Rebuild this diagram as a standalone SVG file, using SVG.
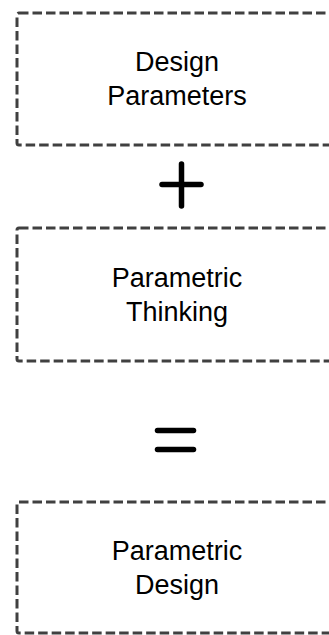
<svg xmlns="http://www.w3.org/2000/svg" width="329" height="635" viewBox="0 0 329 635">
<style>
.box{fill:none;stroke:#404040;stroke-width:3;stroke-dasharray:9.5 4}
.lbl{font-family:"Liberation Sans",Arial,sans-serif;font-size:27px;fill:#000;text-anchor:middle}
.op{stroke:#000;stroke-width:5.5;stroke-linecap:round;fill:none}
</style>
<rect width="329" height="635" fill="#fff"/>
<g id="node-design-parameters">
<rect class="box" x="17" y="13" width="330" height="132" rx="2"/>
<text class="lbl" x="177" y="71">Design</text>
<text class="lbl" x="177" y="105">Parameters</text>
</g>
<g id="connectors">
<g id="plus">
<line class="op" x1="162" y1="184.5" x2="201" y2="184.5"/>
<line class="op" x1="181.5" y1="164" x2="181.5" y2="206"/>
</g>
<g id="equals">
<line class="op" x1="157.5" y1="430.5" x2="193.5" y2="430.5"/>
<line class="op" x1="157.5" y1="449.5" x2="193.5" y2="449.5"/>
</g>
</g>
<g id="node-parametric-thinking">
<rect class="box" x="17" y="228" width="330" height="133" rx="2"/>
<text class="lbl" x="177" y="286.5">Parametric</text>
<text class="lbl" x="177" y="320.5">Thinking</text>
</g>
<g id="node-parametric-design">
<rect class="box" x="17" y="502" width="330" height="131" rx="2"/>
<text class="lbl" x="177" y="560">Parametric</text>
<text class="lbl" x="177" y="594">Design</text>
</g>
</svg>
